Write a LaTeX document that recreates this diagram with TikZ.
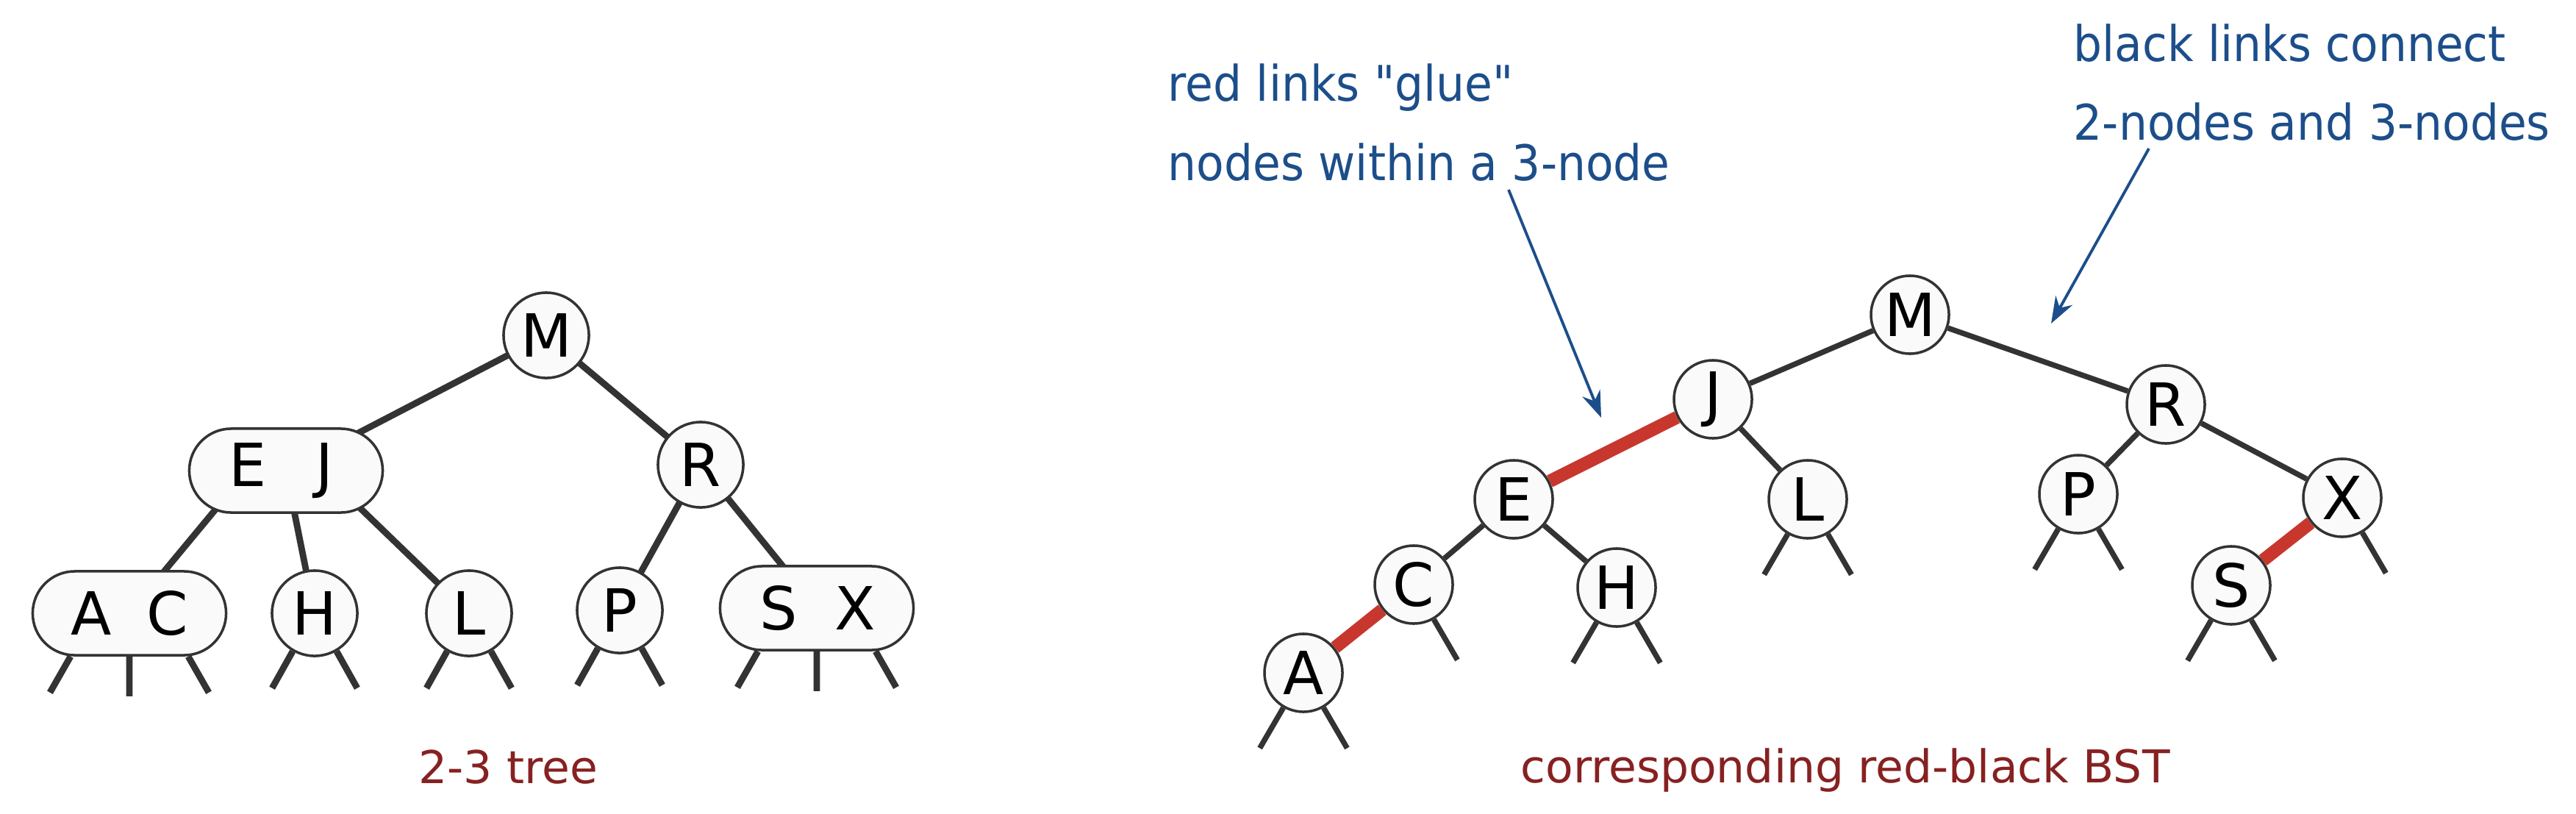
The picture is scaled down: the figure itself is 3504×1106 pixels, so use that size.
\documentclass[tikz,border=0pt]{standalone}
\usepackage{fontspec}
\setmainfont{DejaVu Sans}[Ligatures=TeXOff]
\newfontfamily\notefamily{DejaVu Sans}[FakeStretch=0.92, Ligatures=TeXOff]
\usetikzlibrary{arrows.meta, backgrounds}

\definecolor{noteblue}{RGB}{28,78,138}
\definecolor{captred}{RGB}{135,33,33}
\definecolor{linkred}{RGB}{200,55,45}
\newcommand{\keyfont}{\fontsize{23pt}{23pt}\selectfont}
\newcommand{\notefont}{\notefamily\fontsize{19pt}{22pt}\selectfont}
\newcommand{\captfont}{\fontsize{17.5pt}{20pt}\selectfont}
\newcommand{\twokeys}[2]{\makebox[1.04cm]{#1}\makebox[1.04cm]{#2}}

\begin{document}
\begin{tikzpicture}[
        x=0.01cm, y=-0.01cm,
        two/.style={circle, draw=black!80, line width=1pt, fill=gray!4, inner sep=0pt, minimum size=1.16cm, font=\keyfont},
        three/.style={rectangle, rounded corners=0.57cm, draw=black!80, line width=1pt, fill=gray!4, inner sep=0pt, minimum width=2.63cm, minimum height=1.14cm, font=\keyfont},
        rb/.style={two, minimum size=1.06cm},
        link/.style={draw=black!80, line width=2.5pt},
        rblink/.style={draw=black!80, line width=2.1pt},
        redlink/.style={draw=linkred, line width=5pt},
        note/.style={text=noteblue, font=\notefont, anchor=base west, inner sep=0pt},
        capt/.style={text=captred, font=\captfont, anchor=base, inner sep=0pt},
        pointer/.style={draw=noteblue, line width=1.1pt, -{Stealth[length=0.36cm, width=0.26cm]}}
    ]
        \useasboundingbox (0,0) rectangle (3504,1106);
        \node[two] (tM) at (743,456) {M};
        \node[three] (tEJ) at (389,640) {\twokeys{E}{J}};
        \node[two] (tR) at (953,632) {R};
        \node[three] (tAC) at (176,834) {\twokeys{A}{C}};
        \node[two] (tH) at (428,834) {H};
        \node[two] (tL) at (638,834) {L};
        \node[two] (tP) at (843,830) {P};
        \node[three] (tSX) at (1111,827) {\twokeys{S}{X}};
        \begin{scope}[on background layer]
            \draw[link] (tM.center) -- (tEJ.center);
            \draw[link] (tM.center) -- (tR.center);
            \draw[link] ([xshift=-0.52cm]tEJ.center) -- (tAC.center);
            \draw[link] (tEJ.center) -- (tH.center);
            \draw[link] ([xshift=0.48cm]tEJ.center) -- (tL.center);
            \draw[link] (tR.center) -- (tP.center);
            \draw[link] (tR.center) -- (tSX.center);
        \end{scope}
        \foreach \n in {tH,tL,tP}
            \draw[link] (\n.240) -- ++(-28,50) (\n.300) -- ++(28,50);
        \foreach \n in {tAC,tSX}
            \draw[link] ([xshift=-0.8cm]\n.south) -- ++(-28,49) (\n.south) -- ++(0,54) ([xshift=0.8cm]\n.south) -- ++(28,49);
        \node[capt] (tcapt) at (691,1065) {2-3 tree};

        \node[rb] (rM) at (2598,428) {M};
        \node[rb] (rJ) at (2330,543) {J};
        \node[rb] (rR) at (2946,550) {R};
        \node[rb] (rE) at (2059,679) {E};
        \node[rb] (rL) at (2459,679) {L};
        \node[rb] (rP) at (2827,672) {P};
        \node[rb] (rX) at (3186,677) {X};
        \node[rb] (rC) at (1923,795) {C};
        \node[rb] (rH) at (2199,799) {H};
        \node[rb] (rS) at (3035,796) {S};
        \node[rb] (rA) at (1773,915) {A};
        \draw[rblink] (rM) -- (rJ);
        \draw[rblink] (rM) -- (rR);
        \draw[redlink] (rJ) -- (rE);
        \draw[rblink] (rJ) -- (rL);
        \draw[rblink] (rE) -- (rC);
        \draw[rblink] (rE) -- (rH);
        \draw[redlink] (rC) -- (rA);
        \draw[rblink] (rR) -- (rP);
        \draw[rblink] (rR) -- (rX);
        \draw[redlink] (rX) -- (rS);
        \foreach \n in {rA,rH,rL,rP,rS}
            \draw[rblink] (\n.240) -- ++(-32,55) (\n.300) -- ++(32,55);
        \foreach \n in {rC,rX}
            \draw[rblink] (\n.300) -- ++(32,55);
        \node[capt] (rcapt) at (2510,1064) {corresponding red-black BST};

        \node[note] (glue1) at (1588,137) {red links "glue"};
        \node[note] (glue2) at (1588,245) {nodes within a 3-node};
        \node[note] (conn1) at (2820,83) {black links connect};
        \node[note] (conn2) at (2820,190) {2-nodes and 3-nodes};
        \coordinate (gluefrom) at (2052,258);
        \coordinate (gluetip) at (2178,568);
        \coordinate (connfrom) at (2923,202);
        \coordinate (conntip) at (2790,440);
        \draw[pointer] (gluefrom) -- (gluetip);
        \draw[pointer] (connfrom) -- (conntip);
\end{tikzpicture}
\end{document}
